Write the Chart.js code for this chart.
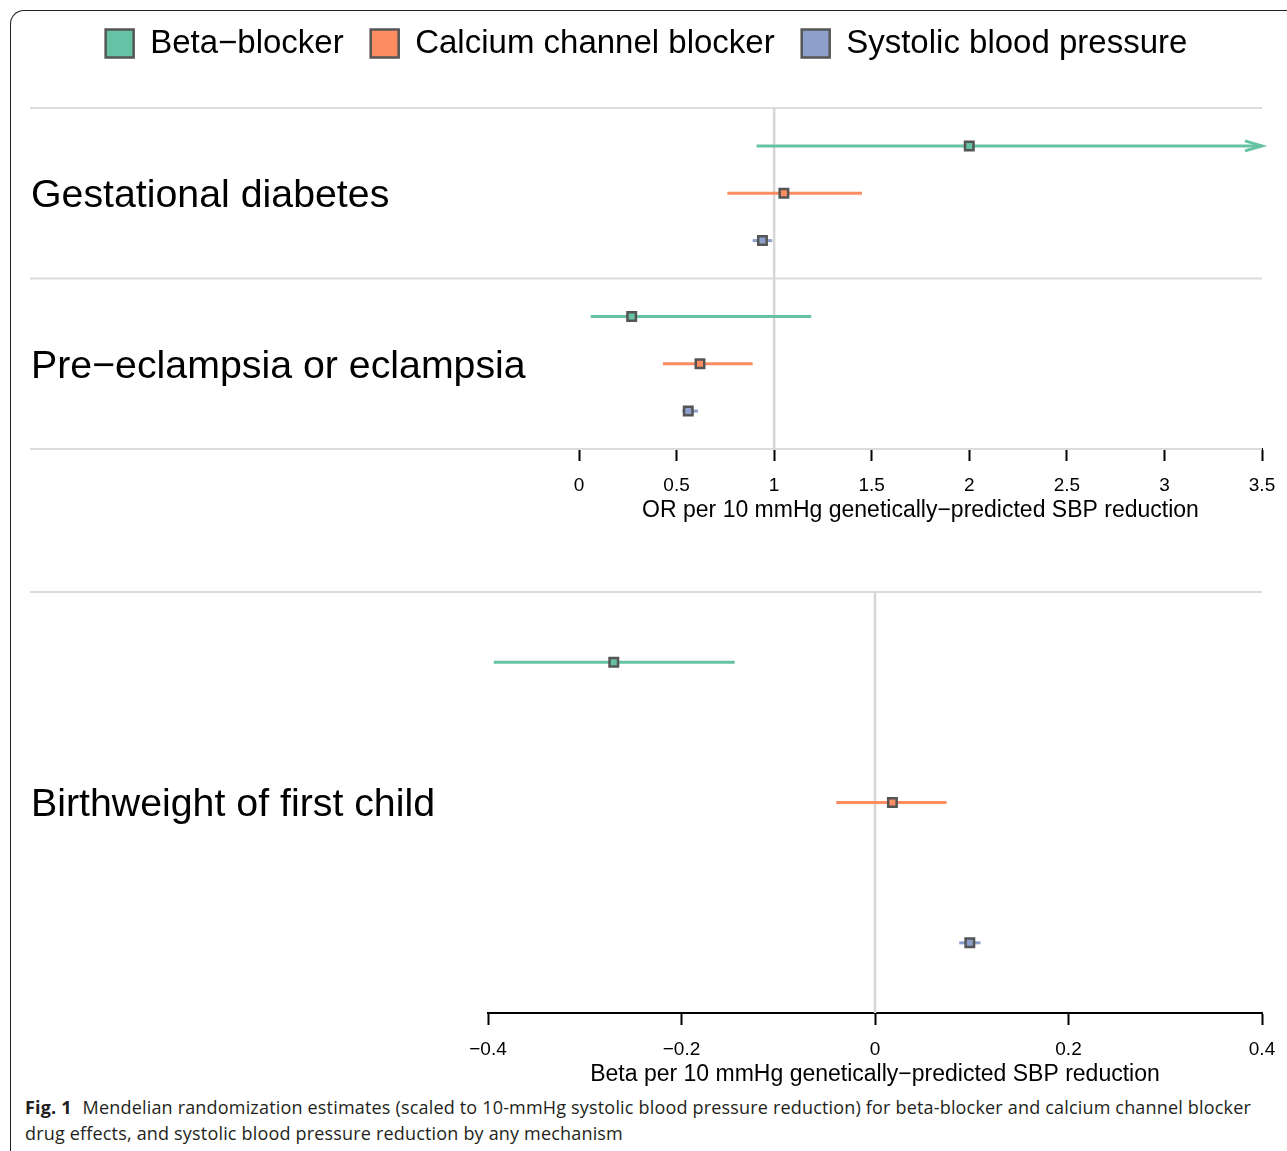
<!DOCTYPE html>
<html>
<head>
<meta charset="utf-8">
<script src="https://cdn.jsdelivr.net/npm/chart.js@4.4.0/dist/chart.umd.min.js"></script>
<style>
  html, body { margin: 0; padding: 0; background: #fff; }
  body { width: 1287px; height: 1151px; position: relative; overflow: hidden; }
  #frame { position: absolute; left: 10px; top: 10px; width: 1300px; height: 1160px;
           border-top: 1.5px solid #222; border-left: 1.5px solid #222; border-top-left-radius: 14px; }
  #top { position: absolute; left: 0; top: 0; }
  #bottom { position: absolute; left: 0; top: 562px; }
  #caption { position: absolute; left: 25px; top: 1094px; font-family: "Open Sans", sans-serif;
             font-size: 18px; line-height: 26px; color: #231f20; letter-spacing: 0.18px; white-space: nowrap; }
  #caption b { font-weight: 700; margin-right: 6px; }
</style>
</head>
<body>
<div id="frame"></div>
<canvas id="top" width="1300" height="529"></canvas>
<canvas id="bottom" width="1300" height="531"></canvas>
<div id="caption">
  <div><b>Fig. 1</b> Mendelian randomization estimates (scaled to 10-mmHg systolic blood pressure reduction) for beta-blocker and calcium channel blocker</div>
  <div>drug effects, and systolic blood pressure reduction by any mechanism</div>
</div>
<script>
// series (one entry per drug mechanism)
const drugs = ['Beta−blocker', 'Calcium channel blocker', 'Systolic blood pressure'];
const drugColours = ['#66c2a5', '#fc8d62', '#8da0cb'];

// binary outcomes, odds ratios
const binaryOutcomes = ['Gestational diabetes', 'Pre−eclampsia or eclampsia'];
const gdOR = [2.00, 1.05, 0.94];
const gdLower = [0.91, 0.76, 0.89];
const gdUpper = [4.41, 1.45, 0.99];
const peOR = [0.27, 0.62, 0.56];
const peLower = [0.06, 0.43, 0.53];
const peUpper = [1.19, 0.89, 0.61];
const orTicks = [0, 0.5, 1, 1.5, 2, 2.5, 3, 3.5];

// continuous outcome, betas
const continuousOutcomes = ['Birthweight of first child'];
const bwBeta = [-0.27, 0.018, 0.098];
const bwLower = [-0.394, -0.040, 0.087];
const bwUpper = [-0.145, 0.074, 0.109];
const betaTicks = [-0.4, -0.2, 0, 0.2, 0.4];

const FONT = '"Liberation Sans", Arial, Helvetica, sans-serif';

function fmtTick(v) {
  const r = Math.round(v * 10) / 10;
  return r < 0 ? '−' + Math.abs(r) : String(r);
}

// builds points + CI segments for every outcome group
function buildDatasets(groups, rowOf, xMax, refValue, yMax) {
  const sets = [];
  drugs.forEach((drug, d) => {
    sets.push({
      label: drug,
      data: groups.map((g, gi) => ({ x: g.est[d], y: rowOf(gi, d) })),
      order: 0,
      pointStyle: 'rect',
      pointRadius: 6,
      pointHoverRadius: 6,
      backgroundColor: drugColours[d],
      borderColor: '#555',
      borderWidth: 2.5,
      showLine: false
    });
    groups.forEach((g, gi) => {
      const y = rowOf(gi, d);
      sets.push({
        label: drug + ' CI',
        data: [{ x: g.lo[d], y: y }, { x: g.hi[d], y: y }],
        order: 1,
        showLine: true,
        borderColor: drugColours[d],
        borderWidth: 3,
        pointRadius: 0,
        truncated: g.hi[d] > xMax
      });
    });
  });
  // null-effect reference line
  sets.push({
    label: 'ref',
    data: [{ x: refValue, y: 0 }, { x: refValue, y: yMax }],
    order: 2,
    showLine: true,
    borderColor: '#d6d6d6',
    borderWidth: 2.5,
    pointRadius: 0
  });
  return sets;
}

const separatorPlugin = {
  id: 'separators',
  beforeDatasetsDraw(chart, args, opts) {
    const ctx = chart.ctx;
    const ys = chart.scales.y;
    ctx.save();
    ctx.strokeStyle = '#dcdcdc';
    ctx.lineWidth = 2;
    (opts.values || []).forEach(v => {
      const y = ys.getPixelForValue(v);
      ctx.beginPath();
      ctx.moveTo(30, y);
      ctx.lineTo(chart.chartArea.right, y);
      ctx.stroke();
    });
    ctx.restore();
  }
};

const arrowPlugin = {
  id: 'ciArrow',
  afterDatasetsDraw(chart) {
    const ctx = chart.ctx;
    const xs = chart.scales.x, ys = chart.scales.y;
    chart.data.datasets.forEach(ds => {
      if (!ds.truncated) return;
      const tip = xs.getPixelForValue(xs.max);
      const y = ys.getPixelForValue(ds.data[0].y);
      ctx.save();
      ctx.strokeStyle = ds.borderColor;
      ctx.lineWidth = 3;
      ctx.beginPath();
      ctx.moveTo(tip - 17, y - 5);
      ctx.lineTo(tip, y);
      ctx.lineTo(tip - 17, y + 5);
      ctx.stroke();
      ctx.restore();
    });
  }
};

const legendSpace = {
  id: 'legendSpace',
  beforeLayout(chart) {
    const lg = chart.legend;
    if (lg && !lg._patched) {
      const fit = lg.fit;
      lg.fit = function () { fit.call(this); this.height = 108; };
      lg._patched = true;
    }
  }
};

function xAxis(min, max, ticks, title) {
  return {
    type: 'linear',
    min: min,
    max: max,
    afterBuildTicks: s => { s.ticks = ticks.map(v => ({ value: v })); },
    afterFit: s => { s.height = 80; },
    grid: { drawOnChartArea: false, drawTicks: true, tickLength: 12, tickColor: '#000', tickWidth: 2 },
    border: { display: true, color: '#000', width: 2 },
    ticks: { color: '#000', font: { size: 19, family: FONT }, padding: 13, maxRotation: 0, autoSkip: false, callback: fmtTick },
    title: { display: true, text: title, color: '#000', font: { size: 23, family: FONT }, padding: { top: 0, bottom: 5 } }
  };
}

function yAxis(max, labels, centres, width) {
  return {
    type: 'linear',
    reverse: true,
    min: 0,
    max: max,
    afterBuildTicks: s => { s.ticks = centres.map(v => ({ value: v })); },
    afterFit: s => { s.width = width; },
    grid: { display: false, drawTicks: false },
    border: { display: false },
    ticks: { color: '#000', crossAlign: 'far', autoSkip: false, padding: 0, labelOffset: 3,
             font: { size: 39.3, family: FONT }, callback: (v, i) => labels[i] }
  };
}

// top panel: odds ratios
const topGroups = [
  { est: gdOR, lo: gdLower, hi: gdUpper },
  { est: peOR, lo: peLower, hi: peUpper }
];
new Chart(document.getElementById('top'), {
  type: 'scatter',
  data: { datasets: buildDatasets(topGroups, (gi, d) => gi * 3.6 + 0.8 + d, 3.5, 1, 7.2) },
  options: {
    responsive: false,
    animation: false,
    layout: { padding: { left: 31, right: 38, top: 0, bottom: 0 } },
    scales: {
      x: xAxis(0, 3.5, orTicks, 'OR per 10 mmHg genetically−predicted SBP reduction'),
      y: yAxis(7.2, binaryOutcomes, [1.8, 5.4], 548)
    },
    plugins: {
      tooltip: { enabled: false },
      separators: { values: [0, 3.6, 7.2] },
      legend: {
        position: 'top',
        labels: {
          color: '#000',
          font: { size: 33, family: FONT },
          boxWidth: 28,
          boxHeight: 28,
          padding: 27,
          generateLabels: () => drugs.map((d, i) => ({
            text: d, fillStyle: drugColours[i], strokeStyle: '#555', lineWidth: 2.5, hidden: false, datasetIndex: i
          }))
        }
      }
    }
  },
  plugins: [legendSpace, separatorPlugin, arrowPlugin]
});

// bottom panel: betas
const bottomGroups = [{ est: bwBeta, lo: bwLower, hi: bwUpper }];
new Chart(document.getElementById('bottom'), {
  type: 'scatter',
  data: { datasets: buildDatasets(bottomGroups, (gi, d) => 0.5 + d, 0.4, 0, 3) },
  options: {
    responsive: false,
    animation: false,
    layout: { padding: { left: 31, right: 38, top: 30, bottom: 0 } },
    scales: {
      x: xAxis(-0.4, 0.4, betaTicks, 'Beta per 10 mmHg genetically−predicted SBP reduction'),
      y: yAxis(3, continuousOutcomes, [1.5], 457)
    },
    plugins: {
      tooltip: { enabled: false },
      legend: { display: false },
      separators: { values: [0] }
    }
  },
  plugins: [separatorPlugin, arrowPlugin]
});
</script>
</body>
</html>
